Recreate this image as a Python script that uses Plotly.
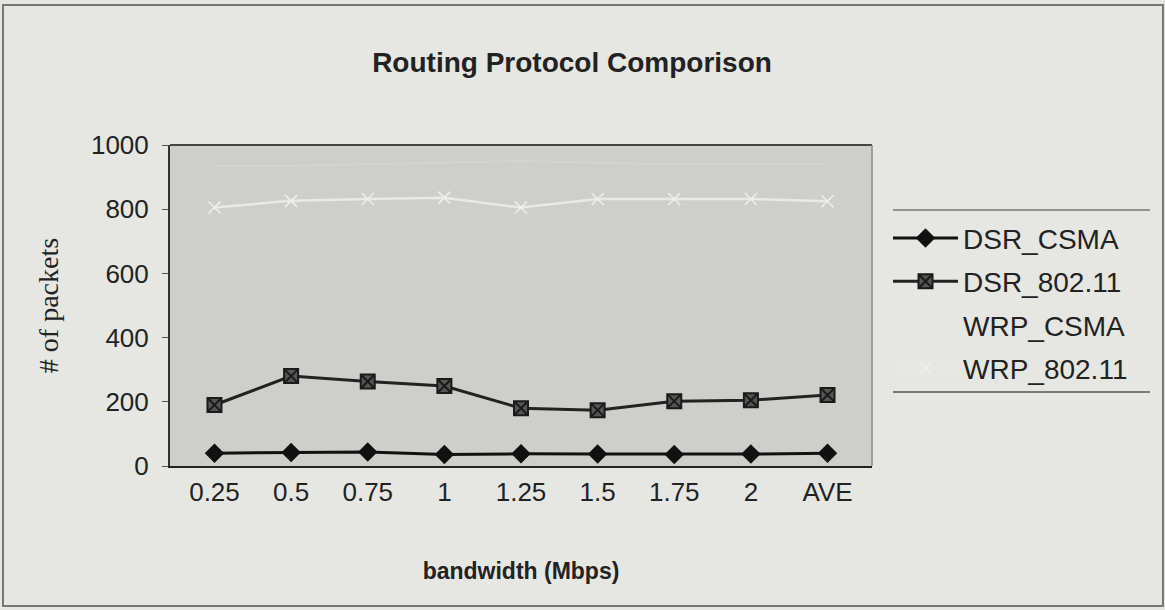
import plotly.graph_objects as go

categories = ["0.25", "0.5", "0.75", "1", "1.25", "1.5", "1.75", "2", "AVE"]
dsr_csma = [40, 42, 44, 36, 38, 37, 36, 37, 40]
dsr_80211 = [190, 280, 263, 249, 180, 174, 202, 205, 221]
wrp_csma = [935, 935, 940, 945, 950, 945, 940, 940, 940]
wrp_80211 = [805, 826, 832, 836, 805, 832, 832, 832, 825]

font_main = "Liberation Sans, Arial, sans-serif"

fig = go.Figure()
fig.add_trace(go.Scatter(
    x=categories, y=dsr_csma, name="DSR_CSMA", mode="lines+markers",
    line=dict(color="#111111", width=3),
    marker=dict(symbol="diamond", size=15, color="#111111"),
    legendgroup="a"))
fig.add_trace(go.Scatter(
    x=categories, y=dsr_80211, name="DSR_802.11", mode="lines+markers",
    line=dict(color="#222222", width=3),
    marker=dict(symbol="square-x", size=14, color="#555555",
                line=dict(color="#1a1a1a", width=2)),
    legendgroup="b"))
fig.add_trace(go.Scatter(
    x=categories, y=wrp_csma, name="WRP_CSMA", mode="lines",
    line=dict(color="rgba(232,233,228,0.25)", width=2),
    legendgroup="c"))
fig.add_trace(go.Scatter(
    x=categories, y=wrp_80211, name="WRP_802.11", mode="lines+markers",
    line=dict(color="#e9e9e9", width=2.5),
    marker=dict(symbol="x-thin", size=12, color="#efefef",
                line=dict(color="#efefef", width=1.5)),
    legendgroup="d"))

fig.update_layout(
    width=1165, height=610,
    paper_bgcolor="#e6e7e2",
    plot_bgcolor="#cecfca",
    margin=dict(l=170, r=293, t=145, b=144),
    title=dict(text="<b>Routing Protocol Comporison</b>", x=572 / 1165, xanchor="center",
               xref="container", y=1 - 62 / 610, yanchor="middle",
               font=dict(family=font_main, size=28, color="#222222")),
    font=dict(family=font_main, size=26, color="#222222"),
    showlegend=True,
    legend=dict(x=(888 - 170) / 702, y=0.7875, xanchor="left", yanchor="top",
                bgcolor="rgba(0,0,0,0)", borderwidth=0,
                font=dict(family=font_main, size=28, color="#222222"),
                tracegroupgap=4, itemwidth=65),
    xaxis=dict(type="category", showgrid=False, showline=True,
               linecolor="#222222", linewidth=2, mirror=False,
               ticks="outside", ticklen=2, tickcolor="rgba(0,0,0,0)",
               tickfont=dict(size=26),
               title=dict(text="<b>bandwidth (Mbps)</b>", standoff=57,
                          font=dict(family=font_main, size=23, color="#222222"))),
    yaxis=dict(range=[0, 1000], dtick=200, showgrid=False, showline=True,
               linecolor="#333333", linewidth=2, ticks="outside", ticklen=6,
               tickcolor="#555555", tickfont=dict(size=26), zeroline=False,
               ticklabelstandoff=8,
               title=dict(text="# of packets", standoff=24,
                          font=dict(family="Liberation Serif, serif", size=28, color="#222222"))),
)

# plot area top/right frame
fig.add_shape(type="line", xref="paper", yref="paper", x0=0, x1=1, y0=1, y1=1,
              line=dict(color="#444444", width=2))
fig.add_shape(type="line", xref="paper", yref="paper", x0=1, x1=1, y0=0, y1=1,
              line=dict(color="#8a8a8a", width=1.5))
# legend top and bottom rules
fig.add_shape(type="line", xref="paper", yref="paper", x0=(893 - 170) / 702, x1=(1150 - 170) / 702,
              y0=(466 - 210) / 321, y1=(466 - 210) / 321,
              line=dict(color="#777777", width=1.5))
fig.add_shape(type="line", xref="paper", yref="paper", x0=(893 - 170) / 702, x1=(1150 - 170) / 702,
              y0=(466 - 392) / 321, y1=(466 - 392) / 321,
              line=dict(color="#555555", width=1.5))
# outer frame
fig.add_shape(type="rect", xref="paper", yref="paper",
              x0=-167 / 702, x1=(1163 - 170) / 702,
              y0=(466 - 606) / 321, y1=(466 - 5) / 321,
              line=dict(color="#777777", width=2))

fig.write_html("out.html")
